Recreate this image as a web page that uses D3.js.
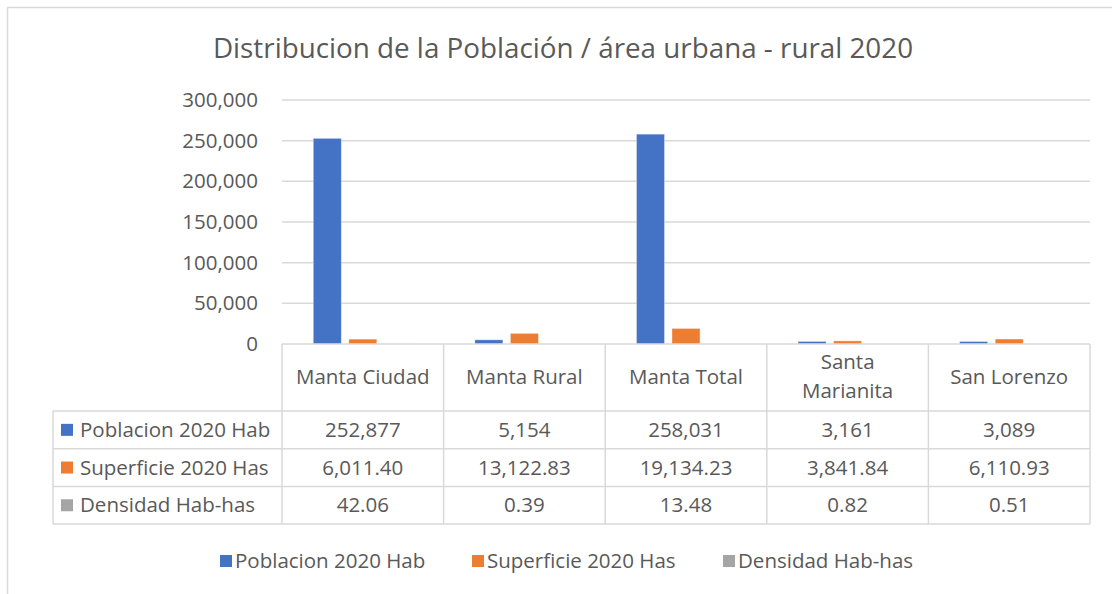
<!DOCTYPE html>
<html>
<head>
<meta charset="utf-8">
<script src="https://cdn.jsdelivr.net/npm/d3@7"></script>
<style>
  body { margin: 0; background: #fff; }
  svg text { font-family: "Open Sans", "Noto Sans", sans-serif; fill: #595959; }
</style>
</head>
<body>
<div id="chart"></div>
<script>
const categories = ['Manta Ciudad', 'Manta Rural', 'Manta Total', 'Santa Marianita', 'San Lorenzo'];
const seriesNames = ['Poblacion 2020 Hab', 'Superficie 2020 Has', 'Densidad Hab-has'];
const poblacion = [252877, 5154, 258031, 3161, 3089];
const superficie = [6011.40, 13122.83, 19134.23, 3841.84, 6110.93];
const densidad = [42.06, 0.39, 13.48, 0.82, 0.51];
const seriesColors = ['#4472C4', '#ED7D31', '#A5A5A5'];
const yTicks = [0, 50000, 100000, 150000, 200000, 250000, 300000];

const W = 1112, H = 594;
const fs = '20.5px';
const svg = d3.select('#chart').append('svg').attr('width', W).attr('height', H);

// chart frame (only left and top edges are inside the picture)
svg.append('path')
  .attr('d', `M7.5,${H} V7.5 H${W}`)
  .attr('fill', 'none')
  .attr('stroke', '#d9d9d9')
  .attr('stroke-width', 1.5);

svg.append('text')
  .attr('x', 563)
  .attr('y', 58)
  .attr('text-anchor', 'middle')
  .style('font-size', '27.8px')
  .text('Distribucion de la Población / área urbana - rural 2020');

const plot = { left: 282, right: 1090, top: 100, bottom: 344 };
const y = d3.scaleLinear().domain([0, 300000]).range([plot.bottom, plot.top]);
const x0 = d3.scaleBand().domain(categories).range([plot.left, plot.right]);
const x1 = d3.scaleBand().domain(seriesNames).range([0, x0.bandwidth()])
  .paddingInner(0.21).paddingOuter(0.88);

// gridlines
svg.append('g')
  .selectAll('line')
  .data(yTicks.filter((d) => d > 0))
  .join('line')
  .attr('x1', plot.left).attr('x2', plot.right)
  .attr('y1', (d) => y(d)).attr('y2', (d) => y(d))
  .attr('stroke', '#d9d9d9').attr('stroke-width', 1.5);

// y tick labels
svg.append('g')
  .selectAll('text')
  .data(yTicks)
  .join('text')
  .attr('x', 258)
  .attr('y', (d) => y(d) + 7)
  .attr('text-anchor', 'end')
  .style('font-size', fs)
  .text((d) => d3.format(',')(d));

// bars
const rows = [poblacion, superficie, densidad];
const barData = [];
categories.forEach((c, i) => {
  seriesNames.forEach((s, j) => barData.push({ cat: c, series: s, value: rows[j][i], color: seriesColors[j] }));
});
svg.append('g')
  .selectAll('rect')
  .data(barData)
  .join('rect')
  .attr('x', (d) => x0(d.cat) + x1(d.series))
  .attr('y', (d) => y(d.value))
  .attr('width', x1.bandwidth())
  .attr('height', (d) => y(0) - y(d.value))
  .attr('fill', (d) => d.color)
  .attr('stroke', '#ffffff')
  .attr('stroke-opacity', 0.5)
  .attr('stroke-width', 0.75);

// data table
const tbl = { labelLeft: 53, headerBottom: 411, rowH: 37.7 };
const tableBottom = tbl.headerBottom + tbl.rowH * 3;
const g = svg.append('g').attr('stroke', '#d9d9d9').attr('stroke-width', 1.5);
// horizontal lines
g.append('line').attr('x1', plot.left).attr('x2', plot.right).attr('y1', plot.bottom).attr('y2', plot.bottom);
d3.range(4).forEach((i) => {
  const yy = tbl.headerBottom + i * tbl.rowH;
  g.append('line').attr('x1', tbl.labelLeft).attr('x2', plot.right).attr('y1', yy).attr('y2', yy);
});
// vertical lines
g.append('line').attr('x1', tbl.labelLeft).attr('x2', tbl.labelLeft).attr('y1', tbl.headerBottom).attr('y2', tableBottom);
categories.concat(['_end']).forEach((c, i) => {
  const xx = i < categories.length ? x0(c) : plot.right;
  g.append('line').attr('x1', xx).attr('x2', xx).attr('y1', plot.bottom).attr('y2', tableBottom);
});

// header labels (wrap the long name onto two lines)
categories.forEach((c) => {
  const cx = x0(c) + x0.bandwidth() / 2;
  const t = svg.append('text').attr('text-anchor', 'middle').style('font-size', fs);
  if (c === 'Santa Marianita') {
    t.append('tspan').attr('x', cx).attr('y', 369).text('Santa');
    t.append('tspan').attr('x', cx).attr('y', 398).text('Marianita');
  } else {
    t.attr('x', cx).attr('y', 384).text(c);
  }
});

// row labels + values
const fmtInt = d3.format(',');
const fmtDec = d3.format(',.2f');
rows.forEach((vals, j) => {
  const cy = tbl.headerBottom + j * tbl.rowH + tbl.rowH / 2;
  svg.append('rect').attr('x', 61).attr('y', cy - 6).attr('width', 12).attr('height', 12).attr('fill', seriesColors[j]);
  svg.append('text').attr('x', 80).attr('y', cy + 7).style('font-size', fs).text(seriesNames[j]);
  vals.forEach((v, i) => {
    svg.append('text')
      .attr('x', x0(categories[i]) + x0.bandwidth() / 2)
      .attr('y', cy + 7)
      .attr('text-anchor', 'middle')
      .style('font-size', fs)
      .text(j === 0 ? fmtInt(v) : fmtDec(v));
  });
});

// legend
const legendX = [220, 472, 723];
seriesNames.forEach((s, j) => {
  svg.append('rect').attr('x', legendX[j]).attr('y', 555).attr('width', 12).attr('height', 12).attr('fill', seriesColors[j]);
  svg.append('text').attr('x', legendX[j] + 15).attr('y', 568).style('font-size', fs).text(s);
});
</script>
</body>
</html>
